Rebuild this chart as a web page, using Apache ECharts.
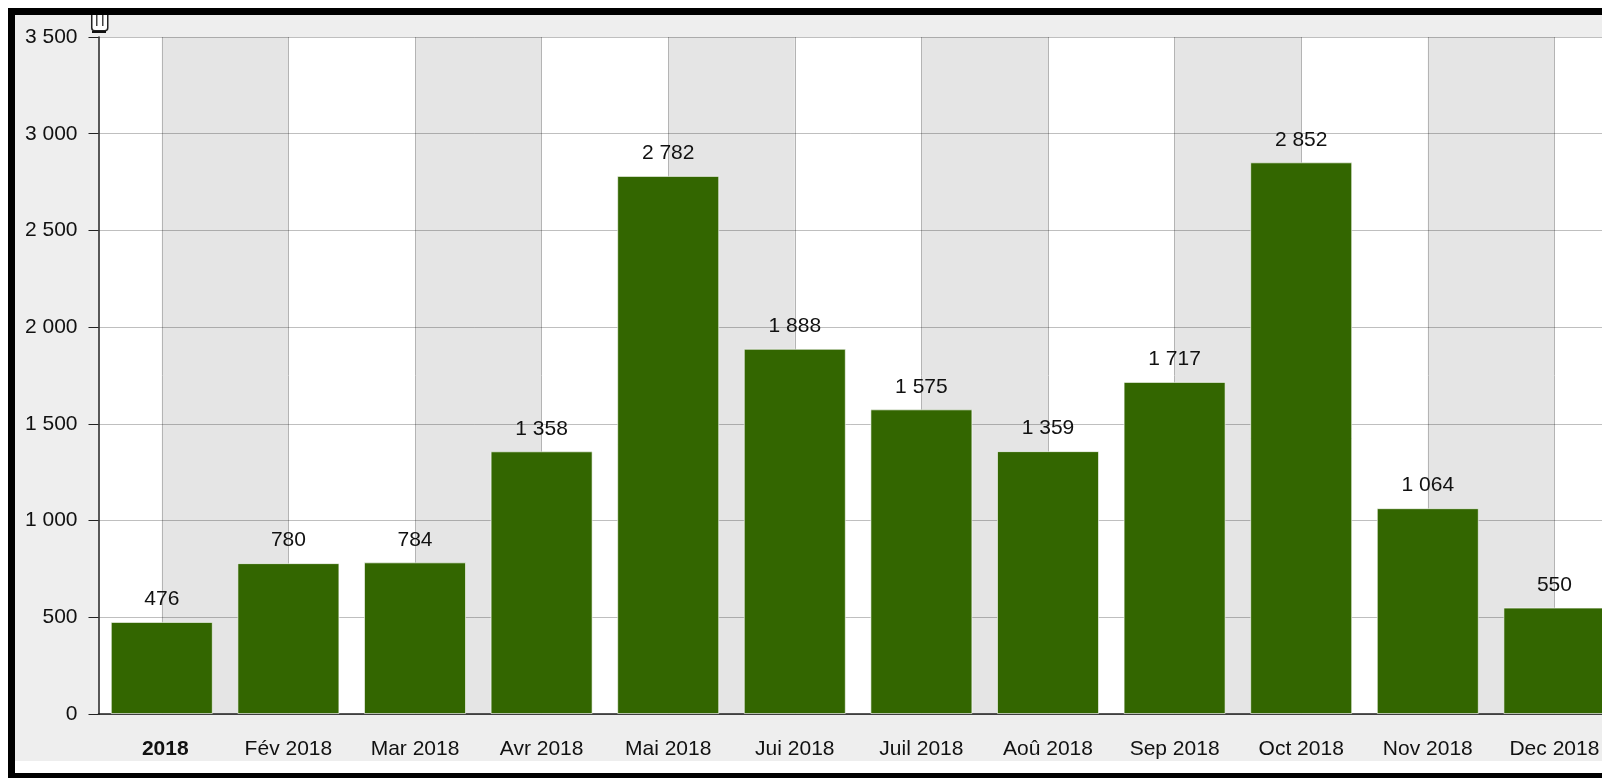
<!DOCTYPE html>
<html>
<head>
<meta charset="utf-8">
<title>Chart</title>
<script src="https://cdn.jsdelivr.net/npm/echarts@6/dist/echarts.min.js"></script>
<style>
  html, body { margin: 0; padding: 0; background: #fff; overflow: hidden; }
  #frame {
    position: absolute; left: 8px; top: 8px; width: 1700px; height: 758px;
    border: 7px solid #000; border-bottom-width: 5px; background: #fff;
  }
  #chart { position: absolute; left: 0; top: 0; width: 1587px; height: 746px; }
</style>
</head>
<body>
<div id="frame"><div id="chart"></div></div>
<script>
const months = ['2018', 'Fév 2018', 'Mar 2018', 'Avr 2018', 'Mai 2018', 'Jui 2018', 'Juil 2018', 'Aoû 2018', 'Sep 2018', 'Oct 2018', 'Nov 2018', 'Dec 2018']
const hits = [476, 780, 784, 1358, 2782, 1888, 1575, 1359, 1717, 2852, 1064, 550]

const spaced = v => String(v).replace(/\B(?=(\d{3})+$)/g, '\u00a0')
const font = 'Liberation Sans, Arial, sans-serif'

let chart = echarts.init(document.getElementById('chart'))

chart.setOption({
  animation: false,
  backgroundColor: '#eeeeee',
  // second grid is shifted half a category, so the bands and vertical lines sit on the ticks
  grid: [
    { left: 83.5, top: 22, width: 1519.2, height: 677, show: true, backgroundColor: '#fff', borderWidth: 0, outerBoundsMode: 'none' },
    { left: 146.8, top: 22, width: 1519.2, height: 677, show: false, outerBoundsMode: 'none' }
  ],
  xAxis: [
    {
      type: 'category',
      gridIndex: 1,
      data: months,
      axisLine: { show: false },
      axisTick: { show: false },
      axisLabel: { show: false },
      splitArea: { show: true, areaStyle: { color: ['#e5e5e5', 'rgba(0,0,0,0)'] } },
      splitLine: { show: true, lineStyle: { color: '#b4b4b4', width: 1 } }
    },
    {
      type: 'category',
      gridIndex: 0,
      data: months,
      axisLine: { lineStyle: { color: '#222', width: 1.5 } },
      axisTick: { alignWithLabel: true, length: 9, lineStyle: { color: '#222', width: 1 } },
      axisLabel: {
        interval: 0,
        margin: 25,
        color: '#111',
        fontFamily: font,
        fontSize: 21,
        formatter: (v, i) => i === 0 ? '{year|' + v + '}' : v,
        rich: { year: { fontFamily: font, fontSize: 21, fontWeight: 'bold', color: '#111', padding: [0, 0, 0, 7] } }
      },
      splitLine: { show: false }
    }
  ],
  yAxis: [
    {
      type: 'value',
      gridIndex: 1,
      min: 0,
      max: 3500,
      interval: 500,
      axisLine: { show: false },
      axisTick: { show: false },
      axisLabel: { show: false },
      splitLine: { show: false }
    },
    {
      type: 'value',
      gridIndex: 0,
      z: 1,
      min: 0,
      max: 3500,
      interval: 500,
      axisLine: { show: true, lineStyle: { color: '#222', width: 1.5 } },
      axisTick: { show: true, length: 10, lineStyle: { color: '#222', width: 1 } },
      axisLabel: {
        margin: 21,
        color: '#111',
        fontFamily: font,
        fontSize: 21,
        formatter: v => spaced(v)
      },
      splitLine: { show: true, lineStyle: { color: 'rgba(0,0,0,0.25)', width: 1 } }
    }
  ],
  series: [{
    type: 'bar',
    xAxisIndex: 1,
    yAxisIndex: 1,
    data: hits,
    barWidth: 102,
    itemStyle: { color: '#336600', borderColor: 'rgba(255,255,255,0.6)', borderWidth: 1 },
    label: {
      show: true,
      position: 'top',
      distance: 12,
      color: '#111',
      fontFamily: font,
      fontSize: 21,
      formatter: p => spaced(p.value)
    }
  }],
  // little resize handle hanging from the top of the y axis
  graphic: [
    { type: 'rect', left: 76, top: -6, shape: { width: 16, height: 21, r: [0, 0, 3, 3] }, style: { fill: '#fff', stroke: '#222', lineWidth: 1.5 } },
    { type: 'rect', left: 81, top: 0, shape: { width: 1.5, height: 11 }, style: { fill: '#444' } },
    { type: 'rect', left: 87, top: 0, shape: { width: 1.5, height: 11 }, style: { fill: '#444' } },
    { type: 'rect', left: 77, top: 16, shape: { width: 14, height: 2 }, style: { fill: '#111' } }
  ]
})
</script>
</body>
</html>
